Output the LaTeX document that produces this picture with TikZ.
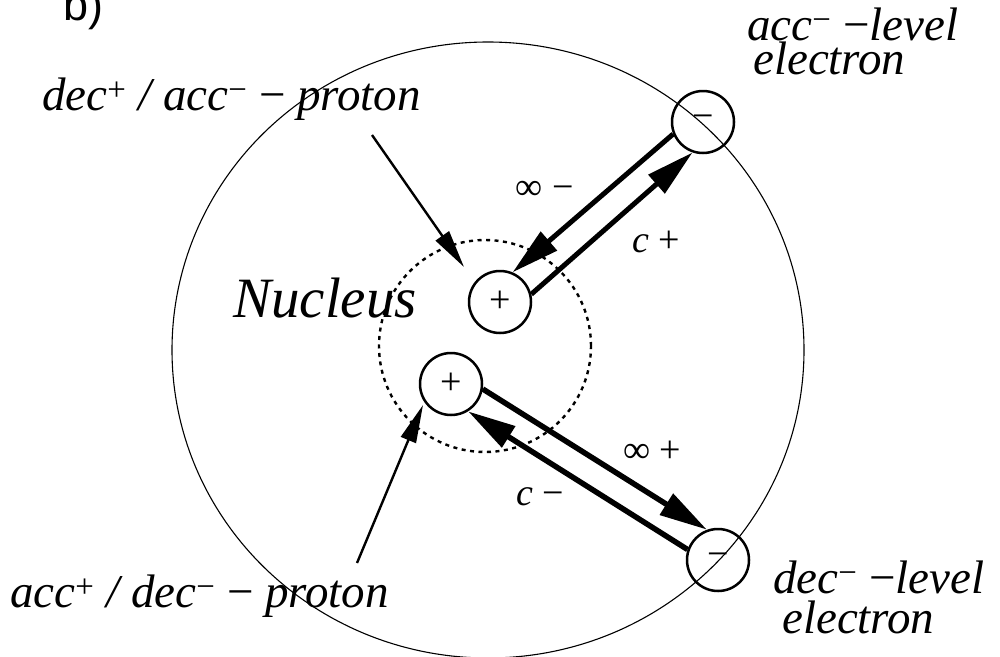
\documentclass[tikz,border=0pt]{standalone}
\usepackage{fontspec}
\setmainfont{Liberation Serif}
\newfontfamily\labelsans{Liberation Sans}
\usetikzlibrary{arrows.meta}
\begin{document}
\begin{tikzpicture}[x=1pt,y=-1pt,
  charge/.style={circle,draw,line width=2.5pt,minimum size=62pt,inner sep=0pt,font=\fontsize{38}{38}\selectfont},
  bigarrow/.style={line width=5pt,-{Triangle[length=48pt,width=24pt]}},
  thinarrow/.style={line width=2.4pt,-{Triangle[length=38pt,width=16pt]}},
  lab/.style={font=\fontsize{47}{47}\selectfont\itshape,inner sep=0pt,anchor=base west},
  small/.style={font=\fontsize{38}{38}\selectfont,inner sep=0pt}]
\useasboundingbox (0,0) rectangle (1000,656);
\fill[white] (0,0) rectangle (1000,656);
\draw[line width=1.1pt] (488,350) ellipse [x radius=316pt, y radius=308pt];
\draw[line width=2.4pt, dash pattern=on 4pt off 4.5pt] (485,346) circle [radius=106pt];
\node[charge] (p1) at (500,302) {+};
\node[charge] (p2) at (451,384) {+};
\node[charge] (e1) at (703,122) {−};
\node[charge] (e2) at (718,560) {−};
\draw[bigarrow] (e1.202) -- (p1.67);
\draw[bigarrow] (p1.14) -- (e1.251);
\draw[bigarrow, line width=5.5pt] (p2.-9) -- (e2.110);
\draw[bigarrow, line width=5.5pt] (e2.161) -- (p2.-58);
\coordinate (s1) at (372,135);
\coordinate (t1) at (464,267);
\draw[thinarrow] (s1) -- (t1);
\coordinate (s2) at (357,563);
\coordinate (t2) at (423,405);
\draw[thinarrow] (s2) -- (t2);
\node[lab] (lp1) at (42,110) {dec\textsuperscript{\upshape+} / acc\textsuperscript{\upshape−} {\upshape−} proton};
\node[lab] (lp2) at (10,607) {acc\textsuperscript{\upshape+} / dec\textsuperscript{\upshape−} {\upshape−} proton};
\node[lab, align=left, font=\fontsize{47}{34}\selectfont\itshape] (le1) at (747,74) {acc\textsuperscript{\upshape−} {\upshape−}level\\\hspace*{6pt}electron};
\node[lab, align=left, font=\fontsize{47}{40}\selectfont\itshape] (le2) at (773,633) {dec\textsuperscript{\upshape−} {\upshape−}level\\\hspace*{9pt}electron};
\node[lab, font=\fontsize{57}{57}\selectfont\itshape] (nuc) at (233,317) {Nucleus};
\node[small] (l1) at (545,190) {∞ −};
\node[small] (l2) at (656,242) {\textit{c} +};
\node[small] (l3) at (652,452) {∞ +};
\node[small] (l4) at (540,497) {\textit{c} −};
\node[font=\labelsans\fontsize{45}{45}\selectfont, anchor=base west, inner sep=0pt] (b) at (63,20) {b)};
\end{tikzpicture}
\end{document}
